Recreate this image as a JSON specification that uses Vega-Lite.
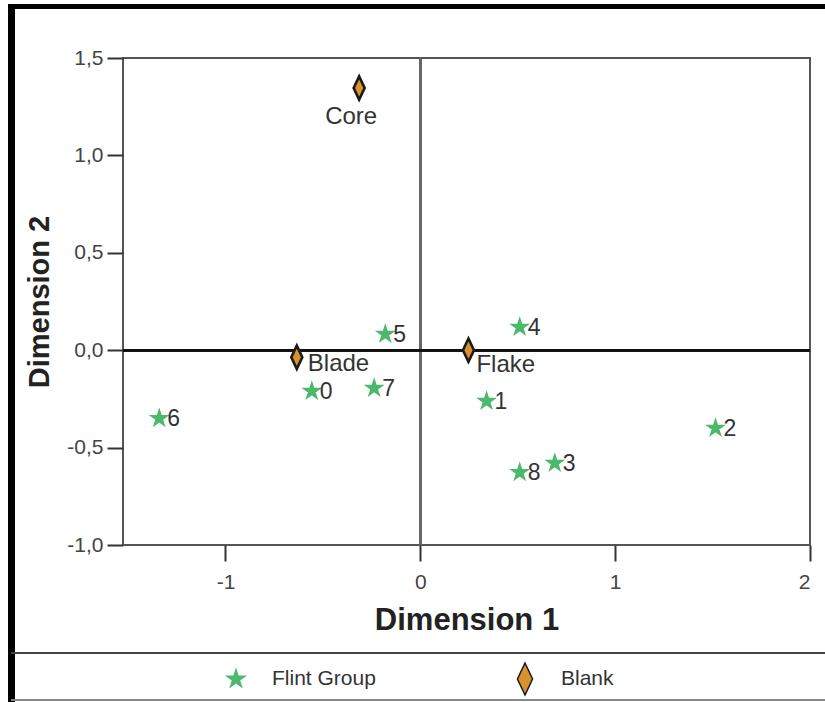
{
  "$schema": "https://vega.github.io/schema/vega-lite/v6.json",
  "width": 687,
  "height": 487,
  "autosize": "none",
  "padding": {"left": 123, "top": 58, "right": 15, "bottom": 157},
  "background": "white",
  "config": {
    "font": "Liberation Sans",
    "view": {"stroke": "#555555", "strokeWidth": 2},
    "axis": {"grid": false, "domain": false, "tickColor": "#333333", "tickWidth": 2, "tickSize": 16, "labelColor": "#444444", "labelFontSize": 21, "titleColor": "#222222", "titleFontWeight": "bold"},
    "legend": {"orient": "none", "legendX": 95, "legendY": 603, "direction": "horizontal", "columns": 2, "columnPadding": 131, "gridAlign": "all", "labelFontSize": 21, "labelColor": "#333333", "labelOffset": 18, "symbolSize": 1130, "symbolStrokeWidth": 1.5, "symbolOpacity": 1, "title": null}
  },
  "datasets": {
    "points": [
      {"label": "Core", "group": "Blank", "d1": -0.314, "d2": 1.346},
      {"label": "Blade", "group": "Blank", "d1": -0.634, "d2": -0.036},
      {"label": "Flake", "group": "Blank", "d1": 0.247, "d2": 0.0},
      {"label": "0", "group": "Flint Group", "d1": -0.557, "d2": -0.21},
      {"label": "1", "group": "Flint Group", "d1": 0.34, "d2": -0.262},
      {"label": "2", "group": "Flint Group", "d1": 1.515, "d2": -0.40},
      {"label": "3", "group": "Flint Group", "d1": 0.69, "d2": -0.58},
      {"label": "4", "group": "Flint Group", "d1": 0.51, "d2": 0.118},
      {"label": "5", "group": "Flint Group", "d1": -0.18, "d2": 0.082},
      {"label": "6", "group": "Flint Group", "d1": -1.34, "d2": -0.35},
      {"label": "7", "group": "Flint Group", "d1": -0.237, "d2": -0.195},
      {"label": "8", "group": "Flint Group", "d1": 0.51, "d2": -0.627}
    ]
  },
  "data": {"name": "points"},
  "layer": [
    {
      "mark": {"type": "rule", "color": "#666666", "strokeWidth": 2},
      "encoding": {"x": {"datum": 0, "type": "quantitative"}}
    },
    {
      "mark": {"type": "rule", "color": "#111111", "strokeWidth": 2},
      "encoding": {"y": {"datum": 0, "type": "quantitative"}}
    },
    {
      "mark": {"type": "rule", "color": "#000000", "strokeWidth": 5},
      "encoding": {
        "x": {"datum": -2.114, "type": "quantitative"},
        "x2": {"datum": 2.08},
        "y": {"datum": 1.7645, "type": "quantitative"}
      }
    },
    {
      "mark": {"type": "rule", "color": "#000000", "strokeWidth": 6},
      "encoding": {
        "x": {"datum": -2.098, "type": "quantitative"},
        "y": {"datum": 1.7645, "type": "quantitative"},
        "y2": {"datum": -1.81}
      }
    },
    {
      "mark": {"type": "rule", "color": "#444444", "strokeWidth": 2},
      "encoding": {
        "x": {"datum": -2.098, "type": "quantitative"},
        "x2": {"datum": 2.08},
        "y": {"datum": -1.555, "type": "quantitative"}
      }
    },
    {
      "mark": {"type": "rule", "color": "#888888", "strokeWidth": 1.5},
      "encoding": {
        "x": {"datum": -2.098, "type": "quantitative"},
        "x2": {"datum": 2.08},
        "y": {"datum": -1.797, "type": "quantitative"}
      }
    },
    {
      "mark": {"type": "point", "filled": true, "opacity": 1, "strokeWidth": 2.6, "size": 600},
      "encoding": {
        "x": {
          "field": "d1", "type": "quantitative",
          "scale": {"domain": [-1.526, 2], "nice": false, "zero": false},
          "axis": {"title": "Dimension 1", "values": [-1, 0, 1, 2], "labelExpr": "'' + datum.value", "labelPadding": 10, "titleFontSize": 31, "titlePadding": 13}
        },
        "y": {
          "field": "d2", "type": "quantitative",
          "scale": {"domain": [-1, 1.5], "nice": false, "zero": false},
          "axis": {"title": "Dimension 2", "values": [-1, -0.5, 0, 0.5, 1, 1.5], "labelExpr": "replace(replace(format(datum.value, '.1f'), '.', ','), '−', '-')", "labelPadding": 4, "titleFontSize": 29, "titlePadding": 12}
        },
        "shape": {
          "field": "group", "type": "nominal",
          "scale": {"domain": ["Flint Group", "Blank"], "range": ["M0,-0.95L0,-0.95ZM0,-0.55L0.123,-0.17L0.523,-0.17L0.2,0.065L0.323,0.445L0,0.21L-0.323,0.445L-0.2,0.065L-0.523,-0.17L-0.123,-0.17ZM0,0.95L0,0.95Z", "M0,-0.95L0.45,0L0,0.95L-0.45,0Z"]}
        },
        "fill": {
          "field": "group", "type": "nominal",
          "scale": {"domain": ["Flint Group", "Blank"], "range": ["#4cb86b", "#d9902f"]}
        },
        "stroke": {
          "field": "group", "type": "nominal",
          "scale": {"domain": ["Flint Group", "Blank"], "range": ["#4cb86b", "#1a1a1a"]}
        }
      }
    },
    {
      "transform": [{"filter": "datum.group == 'Flint Group'"}],
      "mark": {"type": "text", "align": "left", "baseline": "middle", "dx": 8, "dy": 1, "fontSize": 23, "color": "#333333"},
      "encoding": {
        "x": {"field": "d1", "type": "quantitative"},
        "y": {"field": "d2", "type": "quantitative"},
        "text": {"field": "label"}
      }
    },
    {
      "transform": [{"filter": "datum.label == 'Core'"}],
      "mark": {"type": "text", "align": "center", "baseline": "middle", "dx": -8, "dy": 29, "fontSize": 24, "color": "#333333"},
      "encoding": {
        "x": {"field": "d1", "type": "quantitative"},
        "y": {"field": "d2", "type": "quantitative"},
        "text": {"field": "label"}
      }
    },
    {
      "transform": [{"filter": "datum.label == 'Blade'"}],
      "mark": {"type": "text", "align": "left", "baseline": "middle", "dx": 11, "dy": 7, "fontSize": 24, "color": "#333333"},
      "encoding": {
        "x": {"field": "d1", "type": "quantitative"},
        "y": {"field": "d2", "type": "quantitative"},
        "text": {"field": "label"}
      }
    },
    {
      "transform": [{"filter": "datum.label == 'Flake'"}],
      "mark": {"type": "text", "align": "left", "baseline": "middle", "dx": 8, "dy": 15, "fontSize": 24, "color": "#333333"},
      "encoding": {
        "x": {"field": "d1", "type": "quantitative"},
        "y": {"field": "d2", "type": "quantitative"},
        "text": {"field": "label"}
      }
    }
  ]
}
